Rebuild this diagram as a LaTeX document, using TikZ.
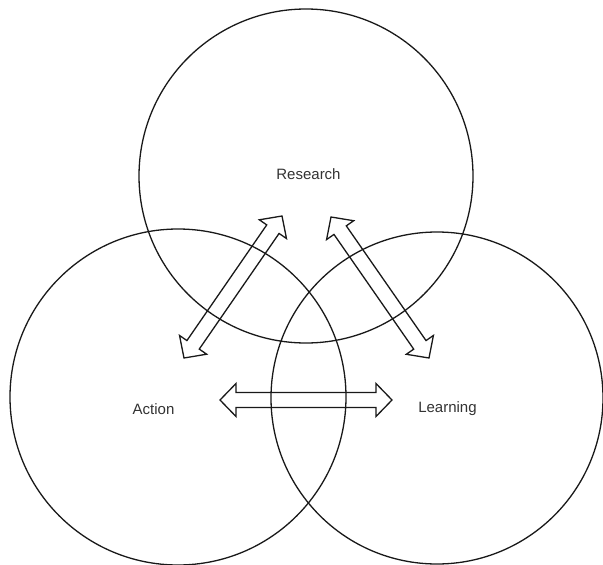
\documentclass[tikz,border=0pt]{standalone}
\usepackage{fontspec}
\setmainfont{Liberation Sans}
\usetikzlibrary{calc}
\tikzset{
  ring/.style={draw=black!90, line width=1.3pt, circle, inner sep=0pt, fill=none},
  lbl/.style={font=\fontsize{15}{18}\selectfont, text=black!80, inner sep=0pt},
  fatarrowline/.style={draw=black!90, line width=1.3pt, line join=miter, fill=none}
}
\newcommand{\fatarrow}[2]{%
  \draw[fatarrowline] (#1)
    -- ($(#1)!16pt!(#2)!16.5pt!90:(#2)$)
    -- ($(#1)!16pt!(#2)!7.5pt!90:(#2)$)
    -- ($(#2)!16pt!(#1)!7.5pt!-90:(#1)$)
    -- ($(#2)!16pt!(#1)!16.5pt!-90:(#1)$)
    -- (#2)
    -- ($(#2)!16pt!(#1)!16.5pt!90:(#1)$)
    -- ($(#2)!16pt!(#1)!7.5pt!90:(#1)$)
    -- ($(#1)!16pt!(#2)!7.5pt!-90:(#2)$)
    -- ($(#1)!16pt!(#2)!16.5pt!-90:(#2)$)
    -- cycle;}
\begin{document}
\begin{tikzpicture}[x=1pt,y=-1pt]
\useasboundingbox[fill=white] (0,0) rectangle (603,565);
% circles
\node[ring, minimum size=334pt] (ctop) at (306,176) {};
\node[ring, minimum size=336pt] (cleft) at (178,397) {};
\node[ring, minimum size=332pt] (cright) at (437,398) {};
% labels
\node[lbl] (research) at (308.5,174) {Research};
\node[lbl] (action) at (153.5,409) {Action};
\node[lbl] (learning) at (447.5,409) {Learning};
% arrow end points
\coordinate (alow) at (184,358);
\coordinate (ahigh) at (282,216);
\coordinate (rhigh) at (331,217);
\coordinate (rlow) at (429,358);
\coordinate (hleft) at (220,400);
\coordinate (hright) at (392,400);
% arrows
\fatarrow{alow}{ahigh}
\fatarrow{rhigh}{rlow}
\fatarrow{hleft}{hright}
\end{tikzpicture}
\end{document}
